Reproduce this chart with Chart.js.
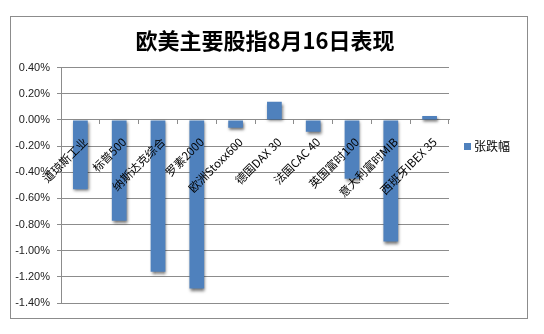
<!DOCTYPE html>
<html>
<head>
<meta charset="utf-8">
<script src="https://cdn.jsdelivr.net/npm/chart.js@4.4.1/dist/chart.umd.min.js"></script>
<style>
  html, body { margin: 0; padding: 0; background: #ffffff; }
  #wrap { width: 544px; height: 334px; position: relative; }
</style>
</head>
<body>
<div id="wrap"><canvas id="c" width="544" height="334"></canvas></div>
<script>
const titleText = '欧美主要股指8月16日表现';
const seriesName = '张跌幅';
const categories = ['道琼斯工业', '标普500', '纳斯达克综合', '罗素2000', '欧洲Stoxx600', '德国DAX 30', '法国CAC 40', '英国富时100', '意大利富时MIB', '西班牙IBEX 35'];
const changes = [-0.53, -0.77, -1.16, -1.29, -0.06, 0.14, -0.09, -0.45, -0.93, 0.03];
const yMin = -1.4, yMax = 0.4, yStep = 0.2;

const barColor = '#4F81BD';
const gridColor = '#8c8c8c';

const decorPlugin = {
  id: 'decor',
  beforeDatasetsDraw(chart) {
    const ctx = chart.ctx;
    ctx.save();
    ctx.shadowColor = 'rgba(0,0,0,0.55)';
    ctx.shadowOffsetX = 1;
    ctx.shadowOffsetY = 2;
    ctx.shadowBlur = 3;
  },
  afterDatasetsDraw(chart) {
    chart.ctx.restore();
  },
  afterDraw(chart) {
    const ctx = chart.ctx;
    ctx.save();
    // outer frame
    ctx.strokeStyle = '#8c8c8c';
    ctx.lineWidth = 1;
    ctx.strokeRect(10.5, 16.5, 517, 302);
    // title
    ctx.fillStyle = '#000000';
    ctx.font = 'bold 22px "Noto Sans CJK SC"';
    ctx.textAlign = 'center';
    ctx.textBaseline = 'middle';
    ctx.fillText(titleText, 265, 41);
    // legend
    ctx.fillStyle = barColor;
    ctx.fillRect(464, 143, 7, 7);
    ctx.fillStyle = '#000000';
    ctx.font = '12px "Noto Sans CJK SC"';
    ctx.textAlign = 'left';
    ctx.fillText(seriesName, 474, 146.5);
    ctx.restore();
  }
};

new Chart(document.getElementById('c'), {
  type: 'bar',
  data: {
    labels: categories,
    datasets: [{
      label: seriesName,
      data: changes,
      backgroundColor: barColor,
      borderWidth: 0,
      barPercentage: 0.38,
      categoryPercentage: 1.0
    }]
  },
  options: {
    responsive: false,
    devicePixelRatio: 1,
    animation: false,
    layout: { padding: { left: 0, top: 67.7, right: 95, bottom: 31 } },
    plugins: {
      legend: { display: false },
      title: { display: false },
      tooltip: { enabled: false }
    },
    scales: {
      x: {
        position: { y: 0 },
        grid: { display: true, drawOnChartArea: false, drawTicks: true, tickLength: 4, color: gridColor, offset: true },
        border: { display: true, color: gridColor, width: 1 },
        ticks: {
          z: 1,
          autoSkip: false,
          minRotation: 45,
          maxRotation: 45,
          padding: 11,
          labelOffset: 5,
          color: '#000000',
          font: { family: '"Noto Sans CJK SC"', size: 11.5 }
        }
      },
      y: {
        min: yMin,
        max: yMax,
        afterFit(scale) { scale.width = 61; },
        grid: { color: gridColor, lineWidth: 1, tickLength: 4, drawTicks: true },
        border: { display: true, color: gridColor, width: 1 },
        ticks: {
          stepSize: yStep,
          padding: 7,
          color: '#222222',
          font: { family: '"Liberation Sans"', size: 11 },
          callback(v) {
            const n = Math.abs(v) < 1e-9 ? 0 : v;
            return n.toFixed(2) + '%';
          }
        }
      }
    }
  },
  plugins: [decorPlugin]
});
</script>
</body>
</html>
